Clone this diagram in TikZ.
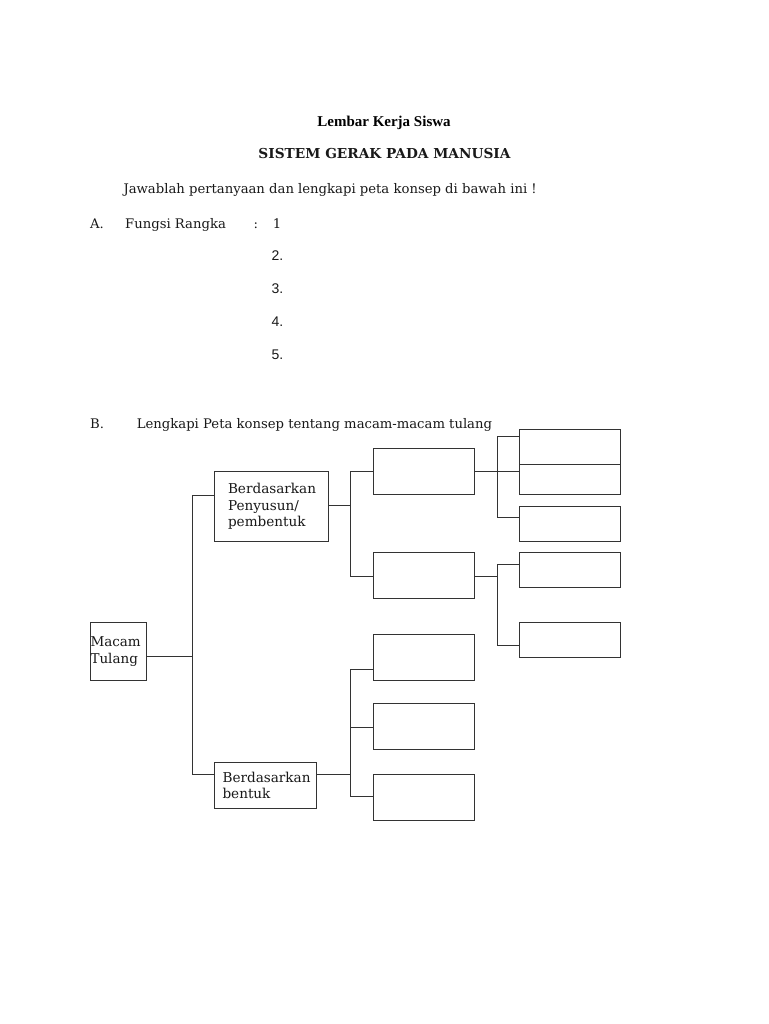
\documentclass[tikz,border=0pt]{standalone}
\usepackage{fontspec}
\setmainfont{DejaVu Serif}
\newfontfamily\titlefont{Liberation Serif}
\newfontfamily\numfont{Liberation Sans}
\begin{document}
\begin{tikzpicture}[x=1pt,y=-1pt,
  txt/.style={anchor=base west, inner sep=0pt, font=\fontsize{13.2}{15}\selectfont, text=black!90},
  numtxt/.style={anchor=base west, inner sep=0pt, font=\numfont\fontsize{14}{16}\selectfont, text=black!90},
  box/.style={draw=black!80, line width=1.7pt, inner sep=0pt, outer sep=0pt, anchor=north west},
  lbl/.style={font=\fontsize{13.6}{16.5}\selectfont, align=left, text=black!90},
  con/.style={draw=black!80, line width=1.7pt}]
\useasboundingbox[fill=white] (0,0) rectangle (768,1024);

% headings
\node[anchor=base, inner sep=0pt, font=\titlefont\bfseries\fontsize{15}{18}\selectfont] (title) at (384,126.7) {Lembar Kerja Siswa};
\node[anchor=base, inner sep=0pt, font=\bfseries\fontsize{13.7}{16}\selectfont, text=black!90] (head) at (384.5,158.3) {SISTEM GERAK PADA MANUSIA};
\node[txt] (intro) at (123.3,193.3) {Jawablah pertanyaan dan lengkapi peta konsep di bawah ini !};

% section A
\node[txt] (a) at (90,228.3) {A.};
\node[txt] (fr) at (125,228.3) {Fungsi Rangka};
\node[txt] (colon) at (253.3,228.3) {:};
\node[txt] (n1) at (272.7,228.3) {1};
\node[numtxt] (n2) at (271.5,260) {2.};
\node[numtxt] (n3) at (271.5,293.3) {3.};
\node[numtxt] (n4) at (271.5,326) {4.};
\node[numtxt] (n5) at (271.5,359.3) {5.};

% section B
\node[txt] (b) at (90,428.3) {B.};
\node[txt] (bt) at (136.7,428.3) {Lengkapi Peta konsep tentang macam-macam tulang};

% boxes with text
\node[box, lbl, minimum height=58pt, text width=56pt, font=\fontsize{13.5}{17.5}\selectfont] (macam) at (90.5,622.5) {Macam\\Tulang};
\node[box, lbl, minimum height=70pt, inner xsep=13.5pt, text width=87pt] (pen) at (214.5,471.5) {Berdasarkan\\Penyusun/\\pembentuk};
\node[box, lbl, minimum height=46pt, inner xsep=8pt, text width=86pt] (ben) at (214.5,762.5) {Berdasarkan\\bentuk};

% middle column
\node[box, minimum width=101pt, minimum height=46pt] (m1) at (373.5,448.5) {};
\node[box, minimum width=101pt, minimum height=46pt] (m2) at (373.5,552.5) {};
\node[box, minimum width=101pt, minimum height=46pt] (m3) at (373.5,634.5) {};
\node[box, minimum width=101pt, minimum height=46pt] (m4) at (373.5,703.5) {};
\node[box, minimum width=101pt, minimum height=46pt] (m5) at (373.5,774.5) {};

% right column
\node[box, minimum width=101pt, minimum height=35pt] (r1) at (519.5,429.5) {};
\node[box, minimum width=101pt, minimum height=30pt] (r2) at (519.5,464.5) {};
\node[box, minimum width=101pt, minimum height=35pt] (r3) at (519.5,506.5) {};
\node[box, minimum width=101pt, minimum height=35pt] (r4) at (519.5,552.5) {};
\node[box, minimum width=101pt, minimum height=35pt] (r5) at (519.5,622.5) {};

% junction coordinates
\coordinate (jm) at (192.5,656.5);
\coordinate (t1a) at (192.5,495.5);
\coordinate (t1b) at (192.5,774.5);
\coordinate (pe) at (350.5,505.5);
\coordinate (t2a) at (350.5,471.5);
\coordinate (t2b) at (350.5,576.5);
\coordinate (t3a) at (350.5,669.5);
\coordinate (t3m) at (350.5,727.5);
\coordinate (t3b) at (350.5,796.5);
\coordinate (ua) at (497.5,436.5);
\coordinate (um) at (497.5,471.5);
\coordinate (ub) at (497.5,517.5);
\coordinate (la) at (497.5,564.5);
\coordinate (lm) at (497.5,576.5);
\coordinate (lb) at (497.5,645.5);

% connectors: Macam Tulang
\draw[con] (macam.east |- jm) -- (jm);
\draw[con] (t1a -| pen.west) -- (t1a) -- (t1b) -- (t1b -| ben.west);
% Penyusun -> m1, m2
\draw[con] (pen.east |- pe) -- (pe);
\draw[con] (t2a -| m1.west) -- (t2a) -- (t2b) -- (t2b -| m2.west);
% Bentuk -> m3, m4, m5
\draw[con] (ben.east |- t1b) -- (t1b -| t3a);
\draw[con] (t3a -| m3.west) -- (t3a) -- (t3b) -- (t3b -| m5.west);
\draw[con] (t3m) -- (t3m -| m4.west);
% m1 -> r1, r2, r3
\draw[con] (m1.east |- um) -- (um -| r2.west);
\draw[con] (ua -| r1.west) -- (ua) -- (ub) -- (ub -| r3.west);
% m2 -> r4, r5
\draw[con] (m2.east |- lm) -- (lm);
\draw[con] (la -| r4.west) -- (la) -- (lb) -- (lb -| r5.west);
\end{tikzpicture}
\end{document}
